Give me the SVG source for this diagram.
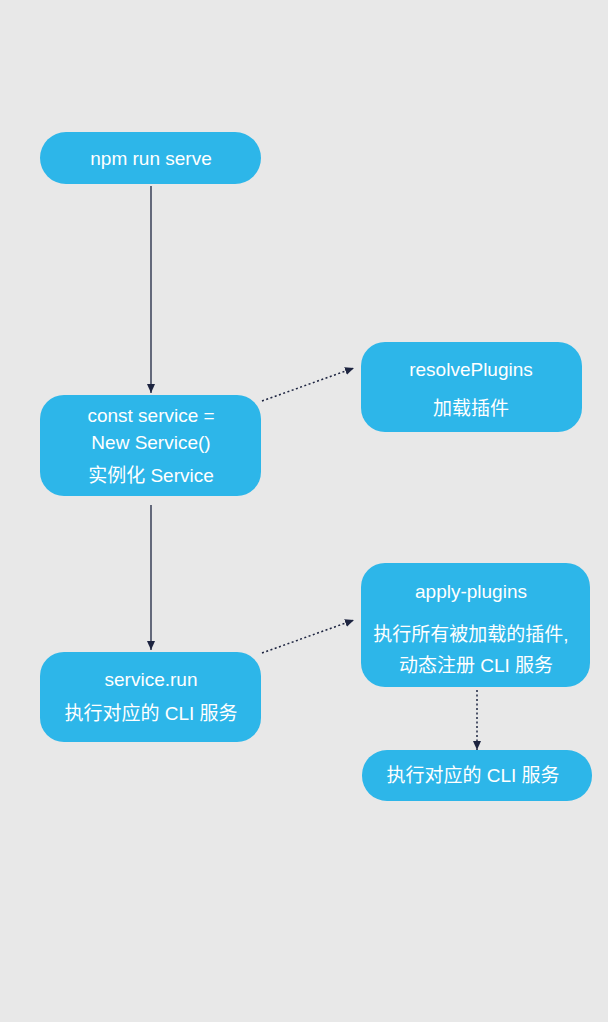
<svg xmlns="http://www.w3.org/2000/svg" width="608" height="1022" viewBox="0 0 608 1022">
<style>
.n{fill:#2db6e9}
.t{fill:#fff;font-family:"Liberation Sans","Noto Sans CJK SC",sans-serif;font-size:19px;text-anchor:middle}
.s{stroke:#1d2440;stroke-width:1.3;fill:none}
.d{stroke:#1d2440;stroke-width:1.5;fill:none;stroke-dasharray:2 2.5}
</style>
<defs><marker id="a" markerWidth="10" markerHeight="10" refX="9" refY="5" orient="auto" markerUnits="userSpaceOnUse"><path d="M0,1 L9,5 L0,9 z" fill="#1d2440"/></marker></defs>
<rect width="608" height="1022" fill="#e8e8e8"/>
<g id="n1"><rect class="n" x="40" y="132" width="221" height="52" rx="26"/><text class="t" x="151" y="165">npm run serve</text></g>
<g id="n2"><rect class="n" x="40" y="395" width="221" height="101" rx="24"/><text class="t" x="151" y="422">const service =</text><text class="t" x="151" y="449">New Service()</text><text class="t" x="151" y="482">实例化 Service</text></g>
<g id="n3"><rect class="n" x="361" y="342" width="221" height="90" rx="24"/><text class="t" x="471" y="376">resolvePlugins</text><text class="t" x="471" y="415">加载插件</text></g>
<g id="n4"><rect class="n" x="40" y="652" width="221" height="90" rx="24"/><text class="t" x="151" y="686">service.run</text><text class="t" x="151" y="720">执行对应的 CLI 服务</text></g>
<g id="n5"><rect class="n" x="361" y="563" width="229" height="124" rx="24"/><text class="t" x="471" y="598">apply-plugins</text><text class="t" x="471" y="641">执行所有被加载的插件,</text><text class="t" x="476" y="672">动态注册 CLI 服务</text></g>
<g id="n6"><rect class="n" x="362" y="750" width="230" height="51" rx="25"/><text class="t" x="473" y="782">执行对应的 CLI 服务</text></g>
<g id="edges">
<line class="s" x1="151" y1="186" x2="151" y2="393" marker-end="url(#a)"/>
<line class="s" x1="151" y1="505" x2="151" y2="650" marker-end="url(#a)"/>
<line class="d" x1="262" y1="401" x2="354" y2="368" marker-end="url(#a)"/>
<line class="d" x1="262" y1="653" x2="354" y2="620" marker-end="url(#a)"/>
<line class="d" x1="477" y1="690" x2="477" y2="750" marker-end="url(#a)"/>
</g>
</svg>
